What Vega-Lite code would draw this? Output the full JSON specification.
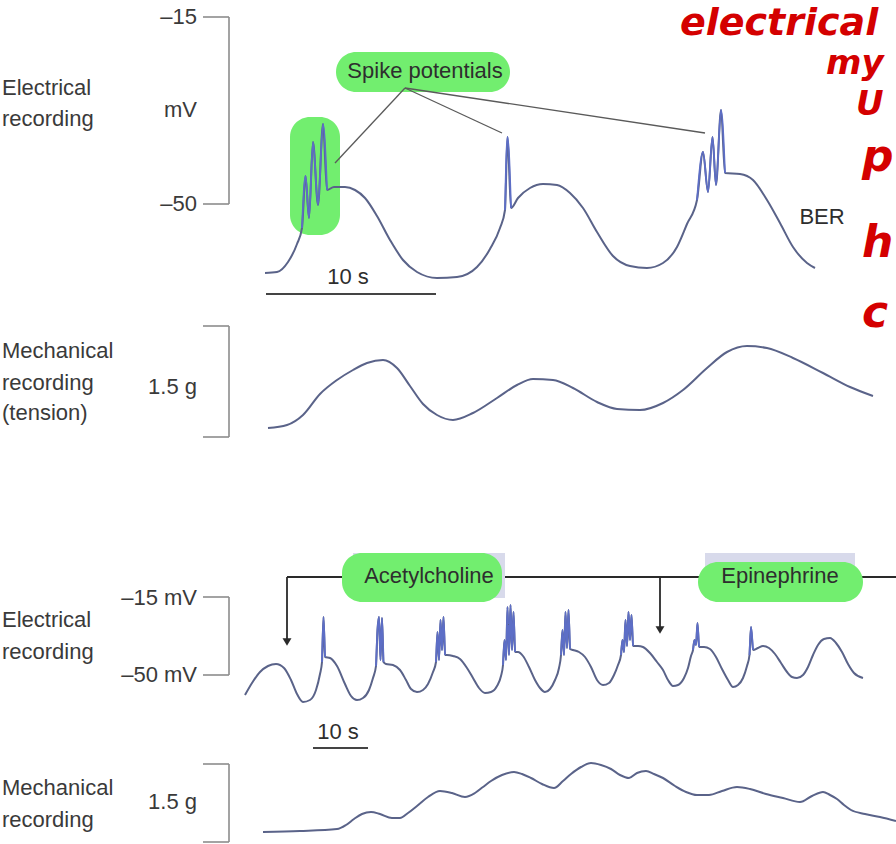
{
  "$schema": "https://vega.github.io/schema/vega-lite/v6.json",
  "width": 896,
  "height": 844,
  "autosize": {"type": "none"},
  "padding": 0,
  "background": "white",
  "config": {"view": {"stroke": null}, "text": {"font": "Liberation Sans"}},
  "datasets": {
    "traces": [
      {"id":"e1","x":265,"y":273},{"id":"e1","x":277,"y":272},{"id":"e1","x":288,"y":262},{"id":"e1","x":297,"y":244},{"id":"e1","x":302,"y":228},{"id":"e1","x":305.5,"y":176},{"id":"e1","x":309,"y":218},{"id":"e1","x":313,"y":142},{"id":"e1","x":318,"y":205},{"id":"e1","x":323,"y":124},{"id":"e1","x":327,"y":190},{"id":"e1","x":334,"y":187},{"id":"e1","x":345,"y":187},{"id":"e1","x":355,"y":190},{"id":"e1","x":365,"y":198},{"id":"e1","x":377,"y":216},{"id":"e1","x":390,"y":240},{"id":"e1","x":403,"y":260},{"id":"e1","x":417,"y":272},{"id":"e1","x":437,"y":278},{"id":"e1","x":457,"y":277},{"id":"e1","x":477,"y":267},{"id":"e1","x":490,"y":249},{"id":"e1","x":500,"y":228},{"id":"e1","x":505,"y":210},{"id":"e1","x":507.5,"y":137},{"id":"e1","x":511,"y":208},{"id":"e1","x":518,"y":198},{"id":"e1","x":530,"y":188},{"id":"e1","x":543,"y":184},{"id":"e1","x":557,"y":185},{"id":"e1","x":570,"y":193},{"id":"e1","x":583,"y":208},{"id":"e1","x":597,"y":232},{"id":"e1","x":613,"y":256},{"id":"e1","x":630,"y":266},{"id":"e1","x":647,"y":268},{"id":"e1","x":663,"y":263},{"id":"e1","x":677,"y":247},{"id":"e1","x":687,"y":224},{"id":"e1","x":697,"y":200},{"id":"e1","x":703,"y":152},{"id":"e1","x":708,"y":192},{"id":"e1","x":712.5,"y":137},{"id":"e1","x":716,"y":185},{"id":"e1","x":721,"y":110},{"id":"e1","x":725,"y":173},{"id":"e1","x":740,"y":174},{"id":"e1","x":753,"y":180},{"id":"e1","x":767,"y":200},{"id":"e1","x":780,"y":223},{"id":"e1","x":793,"y":247},{"id":"e1","x":807,"y":263},{"id":"e1","x":815,"y":268},
      {"id":"m1","x":268,"y":428},{"id":"m1","x":287,"y":425},{"id":"m1","x":303,"y":415},{"id":"m1","x":320,"y":394},{"id":"m1","x":337,"y":380},{"id":"m1","x":353,"y":370},{"id":"m1","x":367,"y":363},{"id":"m1","x":383,"y":360},{"id":"m1","x":397,"y":368},{"id":"m1","x":410,"y":386},{"id":"m1","x":423,"y":404},{"id":"m1","x":437,"y":415},{"id":"m1","x":453,"y":420},{"id":"m1","x":473,"y":413},{"id":"m1","x":497,"y":398},{"id":"m1","x":517,"y":385},{"id":"m1","x":533,"y":379},{"id":"m1","x":553,"y":380},{"id":"m1","x":573,"y":388},{"id":"m1","x":597,"y":402},{"id":"m1","x":617,"y":409},{"id":"m1","x":640,"y":410},{"id":"m1","x":663,"y":403},{"id":"m1","x":683,"y":390},{"id":"m1","x":707,"y":368},{"id":"m1","x":727,"y":352},{"id":"m1","x":747,"y":346},{"id":"m1","x":767,"y":348},{"id":"m1","x":793,"y":358},{"id":"m1","x":823,"y":373},{"id":"m1","x":850,"y":387},{"id":"m1","x":873,"y":396},
      {"id":"e2","x":245,"y":695},{"id":"e2","x":252,"y":683},{"id":"e2","x":260,"y":672},{"id":"e2","x":268,"y":666},{"id":"e2","x":276,"y":664},{"id":"e2","x":284,"y":668},{"id":"e2","x":291,"y":680},{"id":"e2","x":297,"y":694},{"id":"e2","x":303,"y":702},{"id":"e2","x":310,"y":700},{"id":"e2","x":316,"y":690},{"id":"e2","x":320,"y":674},{"id":"e2","x":322,"y":662},{"id":"e2","x":323.5,"y":617},{"id":"e2","x":325,"y":657},{"id":"e2","x":330,"y":658},{"id":"e2","x":337,"y":666},{"id":"e2","x":345,"y":684},{"id":"e2","x":351,"y":696},{"id":"e2","x":357,"y":700},{"id":"e2","x":363,"y":698},{"id":"e2","x":369,"y":690},{"id":"e2","x":373,"y":678},{"id":"e2","x":376,"y":666},{"id":"e2","x":377.5,"y":630},{"id":"e2","x":379,"y":617},{"id":"e2","x":380.5,"y":660},{"id":"e2","x":382,"y":618},{"id":"e2","x":383.5,"y":662},{"id":"e2","x":386,"y":664},{"id":"e2","x":393,"y":665},{"id":"e2","x":400,"y":670},{"id":"e2","x":406,"y":680},{"id":"e2","x":411,"y":689},{"id":"e2","x":417,"y":692},{"id":"e2","x":423,"y":690},{"id":"e2","x":428,"y":684},{"id":"e2","x":433,"y":672},{"id":"e2","x":436,"y":662},{"id":"e2","x":437.5,"y":632},{"id":"e2","x":439,"y":660},{"id":"e2","x":440.5,"y":620},{"id":"e2","x":442,"y":650},{"id":"e2","x":443.5,"y":617},{"id":"e2","x":445,"y":655},{"id":"e2","x":447,"y":655},{"id":"e2","x":453,"y":656},{"id":"e2","x":460,"y":659},{"id":"e2","x":467,"y":668},{"id":"e2","x":473,"y":678},{"id":"e2","x":479,"y":688},{"id":"e2","x":485,"y":693},{"id":"e2","x":491,"y":692},{"id":"e2","x":497,"y":686},{"id":"e2","x":501,"y":676},{"id":"e2","x":503,"y":665},{"id":"e2","x":504.5,"y":640},{"id":"e2","x":506,"y":660},{"id":"e2","x":507.5,"y":607},{"id":"e2","x":509,"y":655},{"id":"e2","x":510.5,"y":605},{"id":"e2","x":512,"y":650},{"id":"e2","x":513.5,"y":612},{"id":"e2","x":515,"y":652},{"id":"e2","x":518,"y":652},{"id":"e2","x":523,"y":656},{"id":"e2","x":529,"y":667},{"id":"e2","x":535,"y":680},{"id":"e2","x":540,"y":688},{"id":"e2","x":545,"y":692},{"id":"e2","x":550,"y":689},{"id":"e2","x":555,"y":680},{"id":"e2","x":559,"y":668},{"id":"e2","x":561,"y":655},{"id":"e2","x":562.5,"y":630},{"id":"e2","x":564,"y":655},{"id":"e2","x":565.5,"y":612},{"id":"e2","x":567,"y":648},{"id":"e2","x":568.5,"y":610},{"id":"e2","x":570,"y":649},{"id":"e2","x":573,"y":650},{"id":"e2","x":579,"y":652},{"id":"e2","x":585,"y":657},{"id":"e2","x":591,"y":667},{"id":"e2","x":597,"y":680},{"id":"e2","x":603,"y":685},{"id":"e2","x":609,"y":683},{"id":"e2","x":614,"y":675},{"id":"e2","x":618,"y":665},{"id":"e2","x":621,"y":655},{"id":"e2","x":622.5,"y":640},{"id":"e2","x":624,"y":652},{"id":"e2","x":625.5,"y":620},{"id":"e2","x":627,"y":646},{"id":"e2","x":628.5,"y":612},{"id":"e2","x":630,"y":640},{"id":"e2","x":631.5,"y":615},{"id":"e2","x":633,"y":646},{"id":"e2","x":638,"y":646},{"id":"e2","x":643,"y":647},{"id":"e2","x":650,"y":653},{"id":"e2","x":657,"y":662},{"id":"e2","x":663,"y":670},{"id":"e2","x":668,"y":680},{"id":"e2","x":673,"y":686},{"id":"e2","x":678,"y":685},{"id":"e2","x":684,"y":678},{"id":"e2","x":688,"y":668},{"id":"e2","x":691,"y":656},{"id":"e2","x":693,"y":650},{"id":"e2","x":694.5,"y":640},{"id":"e2","x":696,"y":645},{"id":"e2","x":697.5,"y":623},{"id":"e2","x":699,"y":647},{"id":"e2","x":704,"y":647},{"id":"e2","x":710,"y":649},{"id":"e2","x":716,"y":657},{"id":"e2","x":722,"y":669},{"id":"e2","x":728,"y":680},{"id":"e2","x":733,"y":687},{"id":"e2","x":738,"y":685},{"id":"e2","x":743,"y":678},{"id":"e2","x":747,"y":666},{"id":"e2","x":749.5,"y":655},{"id":"e2","x":751,"y":627},{"id":"e2","x":753,"y":650},{"id":"e2","x":758,"y":648},{"id":"e2","x":763,"y":646},{"id":"e2","x":769,"y":648},{"id":"e2","x":775,"y":654},{"id":"e2","x":781,"y":663},{"id":"e2","x":787,"y":672},{"id":"e2","x":792,"y":677},{"id":"e2","x":797,"y":678},{"id":"e2","x":803,"y":675},{"id":"e2","x":808,"y":667},{"id":"e2","x":813,"y":655},{"id":"e2","x":818,"y":645},{"id":"e2","x":824,"y":639},{"id":"e2","x":830,"y":638},{"id":"e2","x":836,"y":643},{"id":"e2","x":842,"y":652},{"id":"e2","x":848,"y":664},{"id":"e2","x":854,"y":673},{"id":"e2","x":863,"y":678},
      {"id":"m2","x":263,"y":832},{"id":"m2","x":300,"y":831},{"id":"m2","x":337,"y":829},{"id":"m2","x":346,"y":825},{"id":"m2","x":354,"y":819},{"id":"m2","x":362,"y":814},{"id":"m2","x":371,"y":812},{"id":"m2","x":380,"y":814},{"id":"m2","x":392,"y":818},{"id":"m2","x":400,"y":818},{"id":"m2","x":408,"y":813},{"id":"m2","x":417,"y":806},{"id":"m2","x":428,"y":797},{"id":"m2","x":440,"y":791},{"id":"m2","x":452,"y":793},{"id":"m2","x":465,"y":797},{"id":"m2","x":475,"y":793},{"id":"m2","x":483,"y":787},{"id":"m2","x":491,"y":781},{"id":"m2","x":502,"y":775},{"id":"m2","x":514,"y":772},{"id":"m2","x":522,"y":774},{"id":"m2","x":531,"y":778},{"id":"m2","x":542,"y":784},{"id":"m2","x":554,"y":788},{"id":"m2","x":563,"y":781},{"id":"m2","x":571,"y":774},{"id":"m2","x":581,"y":767},{"id":"m2","x":591,"y":763},{"id":"m2","x":601,"y":765},{"id":"m2","x":611,"y":769},{"id":"m2","x":620,"y":775},{"id":"m2","x":629,"y":778},{"id":"m2","x":637,"y":773},{"id":"m2","x":646,"y":771},{"id":"m2","x":654,"y":774},{"id":"m2","x":663,"y":778},{"id":"m2","x":675,"y":786},{"id":"m2","x":686,"y":792},{"id":"m2","x":697,"y":795},{"id":"m2","x":709,"y":795},{"id":"m2","x":722,"y":791},{"id":"m2","x":737,"y":787},{"id":"m2","x":750,"y":789},{"id":"m2","x":766,"y":794},{"id":"m2","x":783,"y":798},{"id":"m2","x":800,"y":802},{"id":"m2","x":812,"y":796},{"id":"m2","x":823,"y":792},{"id":"m2","x":830,"y":795},{"id":"m2","x":837,"y":799},{"id":"m2","x":844,"y":805},{"id":"m2","x":851,"y":810},{"id":"m2","x":865,"y":814},{"id":"m2","x":880,"y":817},{"id":"m2","x":896,"y":821}
    ],
    "spikes": [
      {"id":"a1","x":302,"y":228},{"id":"a1","x":305.5,"y":176},{"id":"a1","x":309,"y":218},{"id":"a1","x":313,"y":142},{"id":"a1","x":318,"y":205},{"id":"a1","x":323,"y":124},{"id":"a1","x":327,"y":190},
      {"id":"a2","x":505,"y":210},{"id":"a2","x":507.5,"y":137},{"id":"a2","x":511,"y":208},
      {"id":"a3","x":697,"y":200},{"id":"a3","x":703,"y":152},{"id":"a3","x":708,"y":192},{"id":"a3","x":712.5,"y":137},{"id":"a3","x":716,"y":185},{"id":"a3","x":721,"y":110},{"id":"a3","x":725,"y":173},
      {"id":"b1","x":322,"y":662},{"id":"b1","x":323.5,"y":617},{"id":"b1","x":325,"y":657},
      {"id":"b2","x":376,"y":666},{"id":"b2","x":377.5,"y":630},{"id":"b2","x":379,"y":617},{"id":"b2","x":380.5,"y":660},{"id":"b2","x":382,"y":618},{"id":"b2","x":383.5,"y":662},
      {"id":"b3","x":436,"y":662},{"id":"b3","x":437.5,"y":632},{"id":"b3","x":439,"y":660},{"id":"b3","x":440.5,"y":620},{"id":"b3","x":442,"y":650},{"id":"b3","x":443.5,"y":617},{"id":"b3","x":445,"y":655},
      {"id":"b4","x":503,"y":665},{"id":"b4","x":504.5,"y":640},{"id":"b4","x":506,"y":660},{"id":"b4","x":507.5,"y":607},{"id":"b4","x":509,"y":655},{"id":"b4","x":510.5,"y":605},{"id":"b4","x":512,"y":650},{"id":"b4","x":513.5,"y":612},{"id":"b4","x":515,"y":652},
      {"id":"b5","x":561,"y":655},{"id":"b5","x":562.5,"y":630},{"id":"b5","x":564,"y":655},{"id":"b5","x":565.5,"y":612},{"id":"b5","x":567,"y":648},{"id":"b5","x":568.5,"y":610},{"id":"b5","x":570,"y":649},
      {"id":"b6","x":621,"y":655},{"id":"b6","x":622.5,"y":640},{"id":"b6","x":624,"y":652},{"id":"b6","x":625.5,"y":620},{"id":"b6","x":627,"y":646},{"id":"b6","x":628.5,"y":612},{"id":"b6","x":630,"y":640},{"id":"b6","x":631.5,"y":615},{"id":"b6","x":633,"y":646},
      {"id":"b7","x":693,"y":650},{"id":"b7","x":694.5,"y":640},{"id":"b7","x":696,"y":645},{"id":"b7","x":697.5,"y":623},{"id":"b7","x":699,"y":647},
      {"id":"b8","x":749.5,"y":655},{"id":"b8","x":751,"y":627},{"id":"b8","x":753,"y":650}
    ],
    "arrows": [
      {"x":287,"y":577,"x2":896,"y2":577},
      {"x":287,"y":577,"x2":287,"y2":640},
      {"x":660,"y":577,"x2":660,"y2":628}
    ],
    "arrowheads": [{"x":287,"y":642},{"x":660,"y":630}],
    "boxes": [
      {"x":353,"y":553,"x2":505,"y2":598},
      {"x":705,"y":553,"x2":855,"y2":598}
    ],
    "highlights": [
      {"x":336,"y":52,"x2":510,"y2":92},
      {"x":290,"y":117,"x2":340,"y2":235},
      {"x":342,"y":553,"x2":502,"y2":602},
      {"x":698,"y":562,"x2":863,"y2":602}
    ],
    "brackets": [
      {"x":203,"y":17,"x2":229,"y2":17},{"x":229,"y":17,"x2":229,"y2":204},{"x":203,"y":204,"x2":229,"y2":204},
      {"x":203,"y":326,"x2":229,"y2":326},{"x":229,"y":326,"x2":229,"y2":437},{"x":203,"y":437,"x2":229,"y2":437},
      {"x":203,"y":597,"x2":229,"y2":597},{"x":229,"y":597,"x2":229,"y2":675},{"x":203,"y":675,"x2":229,"y2":675},
      {"x":203,"y":764,"x2":229,"y2":764},{"x":229,"y":764,"x2":229,"y2":842},{"x":203,"y":842,"x2":229,"y2":842}
    ],
    "pointers": [
      {"x":405,"y":88,"x2":335,"y2":163},
      {"x":405,"y":88,"x2":502,"y2":133},
      {"x":405,"y":88,"x2":705,"y2":133}
    ],
    "scalebars": [
      {"x":266,"y":294,"x2":436,"y2":294},
      {"x":313,"y":748,"x2":368,"y2":748}
    ],
    "leftLabels": [
      {"text":"Electrical","x":2,"y":88},{"text":"recording","x":2,"y":119},
      {"text":"Mechanical","x":2,"y":351},{"text":"recording","x":2,"y":383},{"text":"(tension)","x":2,"y":413},
      {"text":"Electrical","x":2,"y":620},{"text":"recording","x":2,"y":652},
      {"text":"Mechanical","x":2,"y":788},{"text":"recording","x":2,"y":820}
    ],
    "rightLabels": [
      {"text":"–15","x":197,"y":17},{"text":"mV","x":197,"y":110},{"text":"–50","x":197,"y":204},
      {"text":"1.5 g","x":197,"y":387},
      {"text":"–15 mV","x":197,"y":598},{"text":"–50 mV","x":197,"y":675},
      {"text":"1.5 g","x":197,"y":802}
    ],
    "centerLabels": [
      {"text":"Spike potentials","x":425,"y":71},
      {"text":"10 s","x":348,"y":277},
      {"text":"BER","x":822,"y":217},
      {"text":"Acetylcholine","x":429,"y":576},
      {"text":"Epinephrine","x":780,"y":576},
      {"text":"10 s","x":338,"y":732}
    ],
    "notesWide": [
      {"text":"electrical","x":680,"y":35}
    ],
    "notesSmall": [
      {"text":"my","x":826,"y":74},
      {"text":"U","x":856,"y":115}
    ],
    "notesLarge": [
      {"text":"p","x":862,"y":171},
      {"text":"h","x":862,"y":257},
      {"text":"c","x":862,"y":327}
    ]
  },
  "encoding": {
    "x": {"field": "x", "type": "quantitative", "scale": {"domain": [0, 896], "nice": false, "zero": false}, "axis": null},
    "y": {"field": "y", "type": "quantitative", "scale": {"domain": [0, 844], "reverse": true, "nice": false, "zero": false}, "axis": null}
  },
  "layer": [
    {"data": {"name": "arrows"}, "mark": {"type": "rule", "color": "#2a2a2a", "strokeWidth": 1.8},
     "encoding": {"x2": {"field": "x2"}, "y2": {"field": "y2"}}},
    {"data": {"name": "boxes"}, "mark": {"type": "rect", "color": "#d8daeb"},
     "encoding": {"x2": {"field": "x2"}, "y2": {"field": "y2"}}},
    {"data": {"name": "highlights"}, "mark": {"type": "rect", "color": "#72ee6f", "cornerRadius": 20},
     "encoding": {"x2": {"field": "x2"}, "y2": {"field": "y2"}}},
    {"data": {"name": "arrowheads"}, "mark": {"type": "point", "shape": "triangle-down", "filled": true, "color": "#2a2a2a", "size": 80, "opacity": 1}},
    {"data": {"name": "brackets"}, "mark": {"type": "rule", "color": "#8c8c8c", "strokeWidth": 1.6},
     "encoding": {"x2": {"field": "x2"}, "y2": {"field": "y2"}}},
    {"data": {"name": "pointers"}, "mark": {"type": "rule", "color": "#5a5a5a", "strokeWidth": 1.3},
     "encoding": {"x2": {"field": "x2"}, "y2": {"field": "y2"}}},
    {"data": {"name": "scalebars"}, "mark": {"type": "rule", "color": "#444444", "strokeWidth": 2},
     "encoding": {"x2": {"field": "x2"}, "y2": {"field": "y2"}}},
    {"data": {"name": "traces"}, "mark": {"type": "line", "color": "#5a6389", "strokeWidth": 2, "interpolate": "monotone"},
     "encoding": {"detail": {"field": "id", "type": "nominal"}}},
    {"data": {"name": "spikes"}, "mark": {"type": "line", "color": "#5d6ec6", "strokeWidth": 1.8, "interpolate": "monotone"},
     "encoding": {"detail": {"field": "id", "type": "nominal"}}},
    {"data": {"name": "leftLabels"}, "mark": {"type": "text", "align": "left", "baseline": "middle", "fontSize": 22, "color": "#3a3a3a"},
     "encoding": {"text": {"field": "text"}}},
    {"data": {"name": "rightLabels"}, "mark": {"type": "text", "align": "right", "baseline": "middle", "fontSize": 22, "color": "#3a3a3a"},
     "encoding": {"text": {"field": "text"}}},
    {"data": {"name": "centerLabels"}, "mark": {"type": "text", "align": "center", "baseline": "middle", "fontSize": 22, "color": "#2e2e2e"},
     "encoding": {"text": {"field": "text"}}},
    {"data": {"name": "notesWide"}, "mark": {"type": "text", "align": "left", "baseline": "alphabetic", "fontSize": 38, "font": "DejaVu Sans", "fontStyle": "italic", "fontWeight": "bold", "color": "#d40000"},
     "encoding": {"text": {"field": "text"}}},
    {"data": {"name": "notesSmall"}, "mark": {"type": "text", "align": "left", "baseline": "alphabetic", "fontSize": 34, "font": "DejaVu Sans", "fontStyle": "italic", "fontWeight": "bold", "color": "#d40000"},
     "encoding": {"text": {"field": "text"}}},
    {"data": {"name": "notesLarge"}, "mark": {"type": "text", "align": "left", "baseline": "alphabetic", "fontSize": 44, "font": "DejaVu Sans", "fontStyle": "italic", "fontWeight": "bold", "color": "#d40000"},
     "encoding": {"text": {"field": "text"}}}
  ]
}
